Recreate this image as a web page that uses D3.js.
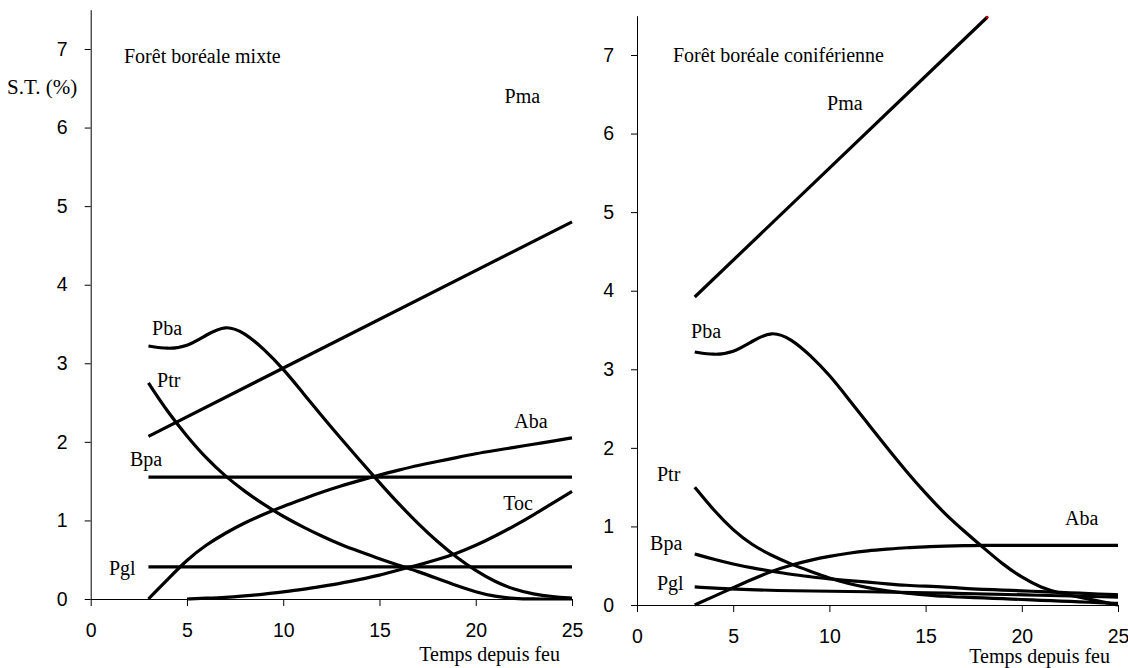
<!DOCTYPE html>
<html>
<head>
<meta charset="utf-8">
<script src="https://cdn.jsdelivr.net/npm/d3@7/dist/d3.min.js"></script>
<style>
  html, body { margin: 0; padding: 0; background: #fff; }
  svg { display: block; }
</style>
</head>
<body>
<svg id="chart" width="1128" height="668"></svg>
<script>
// ---------- DATA ----------
const xTicks = [0, 5, 10, 15, 20, 25];
const yTicks = [0, 1, 2, 3, 4, 5, 6, 7];
const xLabel = "Temps depuis feu";
const yLabel = "S.T. (%)";

const yrs3 = [3,4,5,6,7,8,9,10,11,12,13,14,15,16,17,18,19,20,21,22,23,24,25];
const yrs5 = [5,6,7,8,9,10,11,12,13,14,15,16,17,18,19,20,21,22,23,24,25];

// Forêt boréale mixte
const mixteTitle = "Forêt boréale mixte";
const mixPmaX = [3, 25];            const mixPma = [2.07, 4.80];
const mixBpaX = [3, 25];            const mixBpa = [1.55, 1.55];
const mixPglX = [3, 25];            const mixPgl = [0.41, 0.41];
const mixPba = [3.22,3.18,3.21,3.36,3.49,3.39,3.18,2.93,2.63,2.33,2.04,1.76,1.48,1.21,0.96,0.73,0.53,0.36,0.22,0.12,0.06,0.03,0.01];
const mixPtr = [2.75,2.38,2.07,1.79,1.56,1.37,1.20,1.05,0.92,0.80,0.69,0.60,0.51,0.43,0.35,0.26,0.17,0.09,0.03,0.005,0,0,0];
const mixAba = [0,0.25,0.50,0.69,0.84,0.97,1.08,1.18,1.27,1.36,1.44,1.51,1.58,1.64,1.70,1.75,1.80,1.85,1.89,1.93,1.97,2.01,2.05];
const mixToc = [0,0.01,0.02,0.04,0.06,0.09,0.12,0.16,0.20,0.25,0.30,0.37,0.43,0.50,0.58,0.68,0.80,0.93,1.07,1.22,1.37];

// Forêt boréale coniférienne
const conTitle = "Forêt boréale coniférienne";
const conPmaX = [3, 18.2];          const conPma = [3.92, 7.48];
const conPba = [3.22,3.18,3.21,3.36,3.49,3.39,3.18,2.93,2.62,2.31,2.00,1.70,1.42,1.16,0.94,0.73,0.52,0.35,0.22,0.15,0.10,0.05,0.00];
const conPtr = [1.50,1.20,0.95,0.76,0.63,0.52,0.43,0.34,0.27,0.22,0.18,0.15,0.13,0.11,0.10,0.09,0.08,0.07,0.06,0.05,0.04,0.03,0.02];
const conBpa = [0.65,0.58,0.52,0.47,0.43,0.39,0.36,0.33,0.31,0.29,0.27,0.25,0.24,0.23,0.21,0.20,0.19,0.18,0.17,0.16,0.15,0.14,0.13];
const conPglX = [3, 5, 8, 12, 16, 20, 25];
const conPgl = [0.23, 0.20, 0.18, 0.17, 0.15, 0.13, 0.10];
const conAba = [0,0.11,0.22,0.33,0.43,0.51,0.57,0.62,0.66,0.69,0.71,0.73,0.74,0.75,0.755,0.76,0.76,0.76,0.76,0.76,0.76,0.76,0.76];

// label anchor points (data units)
const mixLabels = [
  {t: "Pma", x: 21.5, y: 6.31}, {t: "Pba", x: 3.19, y: 3.36}, {t: "Ptr", x: 3.45, y: 2.70},
  {t: "Bpa", x: 2.04, y: 1.69}, {t: "Pgl", x: 0.95, y: 0.31}, {t: "Aba", x: 22.0, y: 2.18},
  {t: "Toc", x: 21.43, y: 1.13}
];
const conLabels = [
  {t: "Pma", x: 9.88, y: 6.30}, {t: "Pba", x: 2.81, y: 3.40}, {t: "Ptr", x: 1.04, y: 1.58},
  {t: "Bpa", x: 0.68, y: 0.70}, {t: "Pgl", x: 1.04, y: 0.19}, {t: "Aba", x: 22.25, y: 1.02}
];

const zip = (xs, ys) => xs.map((x, i) => [x, ys[i]]);
const smooth = d3.curveBasis;

const panels = [
  {
    title: mixteTitle, titlePos: [1.73, 6.82],
    xr: [90.7, 572], yr: [599, 9.7], xLabelEnd: 560, xLabelBase: 661,
    series: [
      {pts: zip(mixPmaX, mixPma), curve: d3.curveLinear},
      {pts: zip(mixBpaX, mixBpa), curve: d3.curveLinear},
      {pts: zip(mixPglX, mixPgl), curve: d3.curveLinear},
      {pts: zip(yrs3, mixPba), curve: smooth},
      {pts: zip(yrs3, mixPtr), curve: smooth},
      {pts: zip(yrs3, mixAba), curve: smooth},
      {pts: zip(yrs5, mixToc), curve: smooth}
    ],
    labels: mixLabels, yLabel: true
  },
  {
    title: conTitle, titlePos: [1.87, 6.91],
    xr: [637, 1118], yr: [605, 15.7], xLabelEnd: 1110, xLabelBase: 663,
    series: [
      {pts: zip(conPmaX, conPma), curve: d3.curveLinear, tip: true},
      {pts: zip(yrs3, conPba), curve: smooth},
      {pts: zip(yrs3, conPtr), curve: smooth},
      {pts: zip(yrs3, conBpa), curve: smooth},
      {pts: zip(conPglX, conPgl), curve: smooth},
      {pts: zip(yrs3, conAba), curve: smooth}
    ],
    labels: conLabels, yLabel: false
  }
];

const svg = d3.select("#chart");
const SANS = "'Liberation Sans', Arial, sans-serif";
const SERIF = "'Liberation Serif', 'Times New Roman', serif";

panels.forEach(p => {
  const x = d3.scaleLinear().domain([0, 25]).range(p.xr);
  const y = d3.scaleLinear().domain([0, 7.5]).range(p.yr);
  const g = svg.append("g");

  // axes
  const gx = g.append("g").attr("transform", `translate(0,${y(0)})`)
    .call(d3.axisBottom(x).tickValues(xTicks).tickSize(7).tickPadding(17).tickSizeOuter(0));
  const gy = g.append("g").attr("transform", `translate(${x(0)},0)`)
    .call(d3.axisLeft(y).tickValues(yTicks).tickSize(6).tickPadding(17).tickSizeOuter(0));
  [gx, gy].forEach(a => {
    a.selectAll("path, line").attr("stroke", "#000").attr("stroke-width", 1);
    a.selectAll("text").attr("font-family", SANS).attr("font-size", 19.5).attr("fill", "#000");
  });

  // series
  p.series.forEach(s => {
    const line = d3.line().x(d => x(d[0])).y(d => y(d[1])).curve(s.curve);
    g.append("path").attr("d", line(s.pts))
      .attr("fill", "none").attr("stroke", "#000").attr("stroke-width", 3.2);
    if (s.tip) {
      const last = s.pts[s.pts.length - 1];
      g.append("circle").attr("cx", x(last[0])).attr("cy", y(last[1])).attr("r", 1.4)
        .attr("fill", "#b00000");
    }
  });

  // labels
  p.labels.forEach(l => {
    g.append("text").attr("x", x(l.x)).attr("y", y(l.y)).text(l.t)
      .attr("font-family", SERIF).attr("font-size", 20).attr("fill", "#000");
  });
  g.append("text").attr("x", x(p.titlePos[0])).attr("y", y(p.titlePos[1])).text(p.title)
    .attr("font-family", SERIF).attr("font-size", 20).attr("fill", "#000");
  g.append("text").attr("x", p.xLabelEnd).attr("y", p.xLabelBase).attr("text-anchor", "end")
    .text(xLabel).attr("font-family", SERIF).attr("font-size", 20).attr("fill", "#000");
  if (p.yLabel) {
    g.append("text").attr("x", 7).attr("y", 94).text(yLabel)
      .attr("font-family", SERIF).attr("font-size", 21).attr("fill", "#000");
  }
});
</script>
</body>
</html>
